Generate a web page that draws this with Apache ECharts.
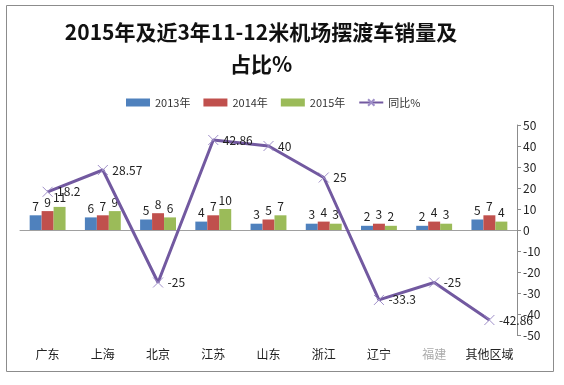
<!DOCTYPE html>
<html>
<head>
<meta charset="utf-8">
<script src="https://cdn.jsdelivr.net/npm/echarts@6/dist/echarts.min.js"></script>
<style>html,body{margin:0;padding:0;background:#fff}#c{width:564px;height:385px}</style>
</head>
<body>
<div id="c"></div>
<script>
const categories = ['广东','上海','北京','江苏','山东','浙江','辽宁','福建','其他区域'];
const sales2013 = [7,6,5,4,3,3,2,2,5];
const sales2014 = [9,7,8,7,5,4,3,4,7];
const sales2015 = [11,9,6,10,7,3,2,3,4];
const yoy = [18.2,28.57,-25,42.86,40,25,-33.3,-25,-42.86];
const yTicks = [-50,50,10];

const chart = echarts.init(document.getElementById('c'));
const font = '"Noto Sans CJK SC", "Liberation Sans", sans-serif';
const barLabel = {show:true, position:'top', distance:3, color:'#222', fontSize:12, fontFamily:font};
chart.setOption({
  animation:false,
  textStyle:{fontFamily:font},
  graphic:[{type:'rect', shape:{x:6.5,y:5.5,width:547,height:366}, style:{fill:'none', stroke:'#8c8c8c', lineWidth:1}}],
  title:{
    text:'2015年及近3年11-12米机场摆渡车销量及\n占比%',
    left:256, textAlign:'center', top:11,
    textStyle:{fontSize:21, fontWeight:'bold', color:'#111', lineHeight:32, fontFamily:font}
  },
  legend:{
    top:92, left:121, itemWidth:24, itemHeight:8, itemGap:13,
    textStyle:{fontSize:11, color:'#333'},
    data:[{name:'2013年',icon:'rect'},{name:'2014年',icon:'rect'},{name:'2015年',icon:'rect'},{name:'同比%'}]
  },
  grid:{left:20, right:47, top:125, bottom:50},
  xAxis:{
    type:'category', data:categories,
    axisLine:{lineStyle:{color:'#a0a0a0'}}, axisTick:{show:false},
    axisLabel:{interval:0, fontSize:12, color:'#222', margin:13,
      formatter:function(v){return v==='福建' ? '{g|'+v+'}' : v;},
      rich:{g:{color:'#aaa', fontSize:12}}}
  },
  yAxis:{
    type:'value', position:'right', min:yTicks[0], max:yTicks[1], interval:yTicks[2],
    axisLine:{show:true, lineStyle:{color:'#8c8c8c'}},
    axisTick:{show:true, inside:false, length:4, lineStyle:{color:'#8c8c8c'}},
    splitLine:{show:false},
    axisLabel:{fontSize:12, color:'#222', margin:6}
  },
  series:[
    {name:'2013年', type:'bar', data:sales2013, barGap:'0%', barCategoryGap:'35%', itemStyle:{color:'#4F81BD'}, label:barLabel},
    {name:'2014年', type:'bar', data:sales2014, itemStyle:{color:'#C0504D'}, label:barLabel},
    {name:'2015年', type:'bar', data:sales2015, itemStyle:{color:'#9BBB59'}, label:barLabel},
    {name:'同比%', type:'line', data:yoy, symbol:'path://M0,0L10,10M10,0L0,10', symbolSize:10,
     lineStyle:{color:'#7259A0', width:3}, itemStyle:{color:'#9F8FC8', borderColor:'#9F8FC8', borderWidth:1},
     label:{show:true, position:'right', distance:4, color:'#222', fontSize:12}}
  ]
});
</script>
</body>
</html>
